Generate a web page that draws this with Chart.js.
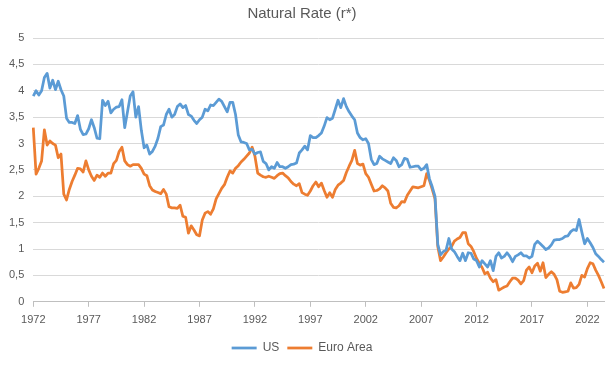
<!DOCTYPE html>
<html>
<head>
<meta charset="utf-8">
<script src="https://cdn.jsdelivr.net/npm/chart.js"></script>
<style>
  html, body { margin: 0; padding: 0; background: #fff; }
  #wrap { width: 612px; height: 382px; }
</style>
</head>
<body>
<div id="wrap"><canvas id="chart" width="612" height="382"></canvas></div>
<script>
// === DATOS (trimestrales, 1972T1 - 2023T3) ===
const firstYear = 1972;
const tickEvery = 20; // una etiqueta cada 5 años

const usRate = [
  3.9, 4.0, 3.92, 4.0, 4.25, 4.33, 4.05, 4.2, 4.02, 4.18,
  4.02, 3.9, 3.48, 3.4, 3.4, 3.38, 3.53, 3.27, 3.17, 3.18,
  3.28, 3.45, 3.3, 3.1, 3.09, 3.82, 3.72, 3.8, 3.58, 3.65,
  3.69, 3.7, 3.83, 3.3, 3.6, 3.9, 3.98, 3.5, 3.7, 3.25,
  2.92, 2.97, 2.8, 2.85, 2.95, 3.1, 3.32, 3.35, 3.55, 3.65,
  3.5, 3.55, 3.7, 3.75, 3.68, 3.72, 3.55, 3.52, 3.44, 3.38,
  3.45, 3.5, 3.65, 3.62, 3.73, 3.72, 3.78, 3.84, 3.8, 3.7,
  3.6, 3.78, 3.78, 3.55, 3.16, 3.03, 3.02, 3.0, 2.88, 2.89,
  2.8, 2.83, 2.84, 2.66, 2.62, 2.5, 2.56, 2.53, 2.64, 2.56,
  2.56, 2.53, 2.56, 2.6, 2.61, 2.63, 2.82, 2.88, 2.95, 2.88,
  3.15, 3.11, 3.11, 3.15, 3.2, 3.33, 3.49, 3.45, 3.48, 3.65,
  3.82, 3.68, 3.85, 3.7, 3.6, 3.52, 3.45, 3.2, 3.11, 3.07,
  3.09, 3.0, 2.7, 2.6, 2.62, 2.76, 2.71, 2.68, 2.65, 2.62,
  2.73, 2.68, 2.56, 2.6, 2.72, 2.7, 2.55, 2.56, 2.57, 2.57,
  2.5, 2.53, 2.6, 2.33, 2.18, 2.0, 1.09, 0.89, 0.95, 0.98,
  1.2, 1.0, 0.95, 0.86, 0.78, 0.92, 0.78, 0.93, 0.92, 0.81,
  0.78, 0.66, 0.78, 0.72, 0.66, 0.78, 0.59, 0.86, 0.93, 0.83,
  0.86, 0.93, 0.86, 0.76, 0.86, 0.89, 0.93, 0.87, 0.87, 0.83,
  0.86, 1.09, 1.15, 1.1, 1.05, 0.99, 1.02, 1.08, 1.17, 1.18,
  1.18, 1.2, 1.24, 1.25, 1.33, 1.37, 1.35, 1.56, 1.32, 1.1,
  1.2, 1.12, 1.03, 0.91, 0.86, 0.8, 0.75
];

const euroRate = [
  3.3, 2.42, 2.53, 2.67, 3.26, 2.97, 3.05, 3.0, 2.97, 2.73,
  2.8, 2.04, 1.93, 2.13, 2.28, 2.4, 2.53, 2.52, 2.46, 2.67,
  2.5, 2.38, 2.3, 2.4, 2.36, 2.44, 2.38, 2.44, 2.44, 2.62,
  2.68, 2.85, 2.93, 2.67, 2.6, 2.57, 2.6, 2.6, 2.6, 2.53,
  2.42, 2.39, 2.2, 2.12, 2.09, 2.07, 2.05, 2.13, 2.04, 1.8,
  1.78, 1.78, 1.77, 1.83, 1.62, 1.6, 1.3, 1.44, 1.36, 1.27,
  1.25, 1.55, 1.68, 1.71, 1.66, 1.76, 1.95, 2.05, 2.15, 2.22,
  2.36, 2.48, 2.44, 2.53, 2.58, 2.65, 2.7, 2.76, 2.82, 2.93,
  2.76, 2.44, 2.4, 2.37, 2.36, 2.38, 2.36, 2.34, 2.39, 2.43,
  2.44, 2.39, 2.35, 2.28, 2.23, 2.2, 2.24, 2.07, 2.04, 2.02,
  2.1, 2.2, 2.27, 2.18, 2.25, 2.11, 1.98, 2.07, 1.98, 2.13,
  2.21, 2.25, 2.3, 2.45, 2.57, 2.68, 2.87, 2.62, 2.59, 2.61,
  2.43, 2.36, 2.23, 2.1, 2.11, 2.14, 2.2, 2.16, 2.1, 1.87,
  1.79, 1.78, 1.82, 1.9, 1.89, 2.02, 2.1, 2.18, 2.17, 2.16,
  2.18, 2.2, 2.43, 2.3, 2.13, 1.95, 1.05, 0.78, 0.85, 0.93,
  1.0, 1.05, 1.15, 1.19, 1.22, 1.31, 1.31, 1.1, 1.05, 0.95,
  0.82, 0.73, 0.65, 0.53, 0.56, 0.45, 0.38, 0.42, 0.22, 0.25,
  0.28, 0.3, 0.38, 0.45, 0.45, 0.41, 0.34, 0.4, 0.6, 0.66,
  0.55, 0.68, 0.73, 0.58, 0.74, 0.46, 0.52, 0.57, 0.52, 0.42,
  0.2, 0.18, 0.19, 0.2, 0.36, 0.26, 0.27, 0.33, 0.5, 0.47,
  0.63, 0.74, 0.72, 0.6, 0.5, 0.38, 0.25
];

// categorías: un año por trimestre
const quarters = usRate.map((_, i) => String(firstYear + Math.floor(i / 4)));

const FONT = "'Liberation Sans', Arial, sans-serif";
const GREY_TEXT = '#595959';

new Chart(document.getElementById('chart').getContext('2d'), {
  type: 'line',
  data: {
    labels: quarters,
    datasets: [
      { label: 'US', data: usRate, borderColor: '#5b9bd5', backgroundColor: '#5b9bd5', borderWidth: 2.75 },
      { label: 'Euro Area', data: euroRate, borderColor: '#ed7d31', backgroundColor: '#ed7d31', borderWidth: 2.75 }
    ]
  },
  options: {
    responsive: false,
    animation: false,
    devicePixelRatio: 1,
    elements: {
      line: { tension: 0, borderJoinStyle: 'round' },
      point: { radius: 0 }
    },
    layout: { padding: { top: 0, left: 0, right: 8, bottom: 18 } },
    plugins: {
      tooltip: { enabled: false },
      title: {
        display: true,
        text: 'Natural Rate (r*)',
        color: GREY_TEXT,
        font: { family: FONT, size: 15, weight: 'normal' },
        padding: { top: 5, bottom: 15 }
      },
      legend: {
        position: 'bottom',
        labels: {
          color: GREY_TEXT,
          font: { family: FONT, size: 12 },
          usePointStyle: true,
          pointStyle: 'line',
          pointStyleWidth: 25,
          padding: 8
        }
      }
    },
    scales: {
      x: {
        type: 'category',
        offset: false,
        border: { display: true, color: '#bfbfbf', width: 1 },
        grid: { display: true, drawOnChartArea: false, drawTicks: true, tickLength: 5, color: '#bfbfbf' },
        ticks: {
          autoSkip: false,
          maxRotation: 0,
          color: GREY_TEXT,
          font: { family: FONT, size: 11 },
          padding: 7,
          callback: (v, i) => (i % tickEvery === 0 ? quarters[i] : null)
        }
      },
      y: {
        min: 0,
        max: 5,
        border: { display: false },
        grid: { color: '#d9d9d9', drawTicks: false },
        ticks: {
          stepSize: 0.5,
          color: GREY_TEXT,
          font: { family: FONT, size: 11 },
          padding: 9,
          callback: v => String(v).replace('.', ',')
        }
      }
    }
  }
});
</script>
</body>
</html>
